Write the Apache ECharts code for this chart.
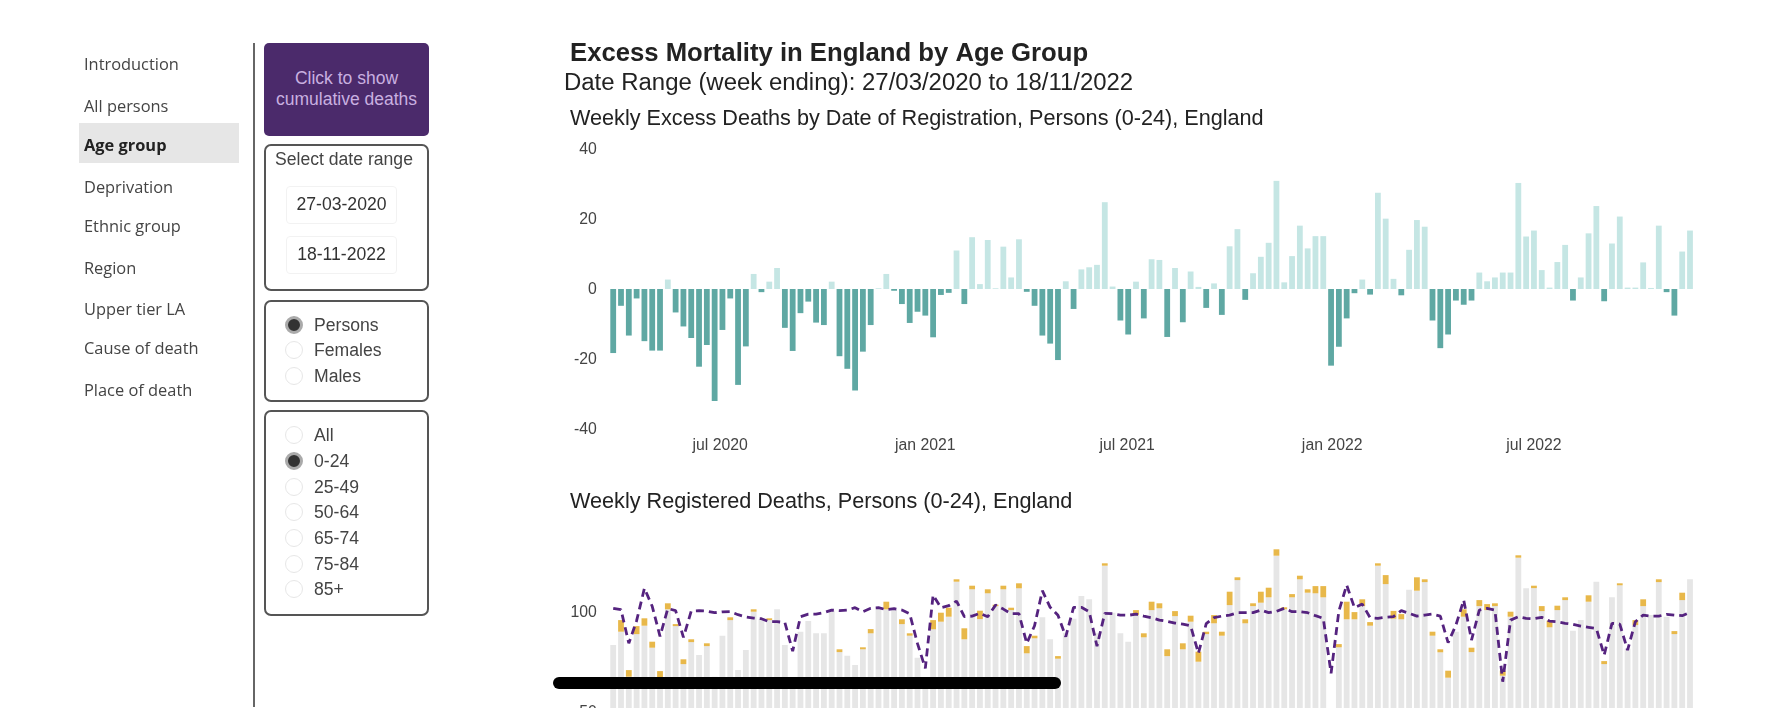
<!DOCTYPE html>
<html>
<head>
<meta charset="utf-8">
<title>Excess Mortality in England by Age Group</title>
<script src="https://cdn.jsdelivr.net/npm/echarts@6/dist/echarts.min.js"></script>
<style>
  html, body { margin: 0; padding: 0; background: #fff; }
  #page { position: relative; width: 1770px; height: 724px; overflow: hidden; font-family: "Liberation Sans", Arial, sans-serif; color: #444; filter: blur(0.6px); }
  #chart { position: absolute; left: 0; top: 0; width: 1770px; height: 708px; }
  .nav { position: absolute; left: 84px; font-family: "Open Sans", sans-serif; font-size: 16.4px; line-height: 20px; color: #444; }
  .nav.active { font-weight: 700; color: #222; }
  #navActive { position: absolute; left: 79px; top: 123px; width: 160px; height: 40px; background: #e6e6e6; }
  #divider { position: absolute; left: 253px; top: 43px; width: 2px; height: 664px; background: #666; }
  #btn { position: absolute; left: 264px; top: 43px; width: 165px; height: 93px; background: #4b2a6b; border-radius: 5px; color: #c9b0e0; font-size: 17.5px; line-height: 21px; text-align: center; padding-top: 25px; box-sizing: border-box; white-space: nowrap; }
  .box { position: absolute; left: 264px; width: 165px; box-sizing: border-box; border: 2px solid #555; border-radius: 7px; }
  .label { position: absolute; font-size: 17.6px; line-height: 20px; white-space: nowrap; }
  .dateInput { position: absolute; left: 286px; width: 111px; height: 38px; box-sizing: border-box; border: 1px solid #f2f2f2; border-radius: 4px; text-align: center; font-size: 17.6px; line-height: 34px; color: #333; }
  .radio { position: absolute; left: 285px; width: 18px; height: 18px; box-sizing: border-box; border: 1.5px solid #e6e6e6; border-radius: 50%; background: #fff; }
  .radio.on { border: 3px solid #aaa; background: #333; }
  #pill { position: absolute; left: 553px; top: 677px; width: 508px; height: 12px; background: #000; border-radius: 6px; }
</style>
</head>
<body>
<div id="page">
  <div id="chart"></div>
  <div id="side"></div>
  <div id="pill"></div>
</div>
<script>
// week ending dates run from here, one every 7 days
let firstWeek = [2020, 2, 27]
let weekCount = 139

let navItems = ['Introduction', 'All persons', 'Age group', 'Deprivation', 'Ethnic group', 'Region', 'Upper tier LA', 'Cause of death', 'Place of death']
let sexItems = ['Persons', 'Females', 'Males']
let ageItems = ['All', '0-24', '25-49', '50-64', '65-74', '75-84', '85+']
let dateItems = ['27-03-2020', '18-11-2022']

let tickDates = [[2020, 6, 1], [2021, 0, 1], [2021, 6, 1], [2022, 0, 1], [2022, 6, 1]]
let tickLabels = ['jul 2020', 'jan 2021', 'jul 2021', 'jan 2022', 'jul 2022']

//周超额死亡
let excessDeaths = [
  -18.3, -4.8, -13.3, -2.7, -14.9, -17.6, -17.6, 2.7, -6.7, -10.7,
  -14, -22.2, -16, -32, -11.7, -2.7, -27.4, -16.4, 4.3, -0.9,
  2.1, 6, -11.1, -17.7, -6.9, -3.6, -9.6, -10.3, 2.1, -19.2,
  -22.8, -29, -17.9, -10.3, 0.2, 4.3, -0.5, -4.3, -9.7, -6.5,
  -7.6, -13.8, -1.7, -1.1, 11, -4.3, 14.8, 1.4, 14, 0.2,
  12.1, 3.3, 14.2, -0.8, -4.8, -13.3, -15.6, -20.3, 2.2, -5.7,
  5.6, 6.2, 6.9, 24.8, 0.7, -9, -13, 2.1, -8.4, 8.5,
  8.3, -13.7, 6, -9.5, 5, 0.6, -5.4, 1.6, -7.4, 12.2,
  17.1, -3.1, 4.5, 9.2, 13.2, 30.9, 1.9, 9.4, 18.1, 11.6,
  15.1, 15.1, -21.9, -16.5, -8.4, -1.2, 2.7, -1.6, 27.5, 20.1,
  2.9, -1.8, 11.2, 19.7, 17.8, -9, -16.9, -13, -3.3, -4.5,
  -3.3, 4.7, 2.2, 3.3, 4.7, 4.7, 30.3, 15, 16.7, 5.4,
  0.4, 7.7, 12.6, -3.3, 3.3, 15.9, 23.7, -3.5, 13, 20.7,
  0.4, 0.4, 7.6, 0.3, 18.1, -0.9, -7.6, 10.7, 16.7
]

// grey part of the registered bars
let registeredBase = [
  83.3, 90, 67.5, 88.8, 93, 82, 67.2, 101.2, 92.8, 73.8,
  84.8, 78.3, 82.8, 67.5, 88, 95.8, 70.8, 80.8, 100, 96.3,
  95.8, 101.2, 83.3, 62.6, 90, 95.3, 89.2, 89.2, 100.5, 79.8,
  78, 73.3, 81.2, 89.2, 102.2, 101.2, 100.8, 93.8, 88, 77,
  64, 91.2, 95, 97.5, 115, 86.2, 111.2, 96.3, 109.2, 102.8,
  111.2, 100.8, 111.7, 79.2, 86.7, 97.2, 86.2, 76.5, 89.5, 96.5,
  107.8, 106.2, 89.2, 123, 99.5, 89.2, 85, 98.3, 87.2, 100.8,
  101.7, 77.8, 97.8, 81.2, 95, 75, 88.8, 94.2, 88, 103.3,
  115.8, 94.2, 102.8, 104.5, 107.2, 128, 101.2, 107.2, 116.2, 109.5,
  109.2, 107.2, 47, 82.2, 96.2, 96.2, 102.8, 93, 123, 113.8,
  96.5, 96.2, 111, 110.5, 114.8, 88, 79.7, 67, 90, 97.5,
  79.8, 102.8, 100.8, 102.8, 68, 97.5, 127, 111.7, 111.8, 100.3,
  92.2, 100.8, 105.8, 90.5, 95.8, 105, 115, 73.8, 107.2, 113.2,
  81.5, 93.3, 102.8, 98.3, 114.8, 97.5, 88.8, 105.8, 116.2
]

// yellow part stacked on top
let registeredExtra = [
  0, 5.8, 3.3, 4, 3.7, 3, 3.1, 3, 1, 2.4,
  1.4, 0, 1.4, 0, 0, 1.4, 0, 0, 1.2, 0,
  0.9, 0, 0, 0, 0, 0, 0, 0, 0, 1.4,
  0, 0, 1, 2.1, 0, 3.8, 0, 2.4, 1.2, 0,
  0, 4.6, 4.5, 4.5, 1.2, 5.5, 1.8, 4.2, 2, 0.7,
  1.8, 1.2, 2.5, 3.6, 1.3, 0, 0, 1.3, 0, 0,
  0, 0, 0, 1.2, 0, 0, 0, 2.5, 2, 4.2,
  2.5, 3.4, 2.5, 3, 3, 5, 1.2, 4.1, 2, 6.7,
  1.4, 2, 1.4, 5.5, 4.8, 3.2, 1, 1.6, 1.8, 1.7,
  3.6, 5.6, 0, 1.6, 8.8, 3.6, 3.4, 1.8, 1.2, 4.5,
  3.9, 2.6, 0, 6.7, 1.4, 2, 1.5, 3.5, 0, 3.7,
  2.2, 3, 3, 1.4, 2.5, 2.5, 1.2, 0, 1.2, 2.5,
  3.3, 2.2, 1.4, 0, 0, 3.2, 0, 1.5, 0, 1,
  0, 2.5, 3.4, 0, 1.4, 0, 1.5, 3.7, 0
]

// dashed line
let expectedDeaths = [
  101.7, 101, 84.2, 95.5, 111.7, 102.7, 87.7, 101.6, 100.5, 87.2,
  100.3, 100.5, 100.3, 99.5, 99.9, 100, 98.5, 97.4, 96.8, 96.5,
  95, 95, 94.6, 80.3, 97.5, 98.8, 98.8, 99.5, 100.8, 100.5,
  100.8, 102, 100, 101.7, 102, 101, 101.5, 100.8, 99, 84,
  71.7, 108.3, 102, 103, 105.3, 97.5, 97.8, 99.2, 97.5, 103.3,
  101.3, 99, 99, 84.2, 93, 110.5, 102.2, 98.2, 87.5, 102.2,
  102.2, 100, 82.8, 99.2, 99, 98.3, 98.2, 98.8, 97.8, 97,
  95.8, 95.2, 94.3, 93.8, 92.9, 79.2, 94, 97, 97.8, 98.3,
  99.5, 99.5, 99.5, 100.8, 99.5, 100.2, 101.7, 100, 100, 99.5,
  98, 96.7, 69.2, 100.3, 113.3, 102, 103.8, 97, 96.7, 97.2,
  97.5, 100.5, 99.2, 97.8, 98.3, 98.8, 97.8, 84.5, 93.3, 105.8,
  85.8, 100.8, 101.7, 100.8, 65, 95.8, 97.5, 96.7, 96.5, 97.2,
  95.3, 95, 94.2, 93.7, 92.8, 92.2, 91.6, 78.3, 94.2, 93.8,
  80.8, 95, 98.3, 97.8, 97.8, 98.7, 98.3, 98, 99.7
]

let navTops = [54, 96, 135, 177, 216, 258, 299, 338, 380]
let sexTops = [325, 350, 376]
let ageTops = [435, 461, 487, 512, 538, 564, 589]

let obj = {

  weeks: function () {
    let list = []
    for (let i = 0; i < weekCount; i++) {
      list.push(+new Date(firstWeek[0], firstWeek[1], firstWeek[2] + i * 7))
    }
    return list
  },

  add: function (html) {
    document.getElementById('side').insertAdjacentHTML('beforeend', html)
  },

  initSide: function () {
    let that = this
    that.add('<div id="navActive"></div><div id="divider"></div>')
    navItems.forEach(function (name, i) {
      let cls = i === 2 ? 'nav active' : 'nav'
      that.add('<div class="' + cls + '" style="top:' + navTops[i] + 'px">' + name + '</div>')
    })
    that.add('<div id="btn">Click to show<br>cumulative deaths</div>')
    that.add('<div class="box" style="top:144px;height:147px"></div>')
    that.add('<div class="label" style="left:275px;top:149px">Select date range</div>')
    that.add('<div class="dateInput" style="top:186px">' + dateItems[0] + '</div>')
    that.add('<div class="dateInput" style="top:236px">' + dateItems[1] + '</div>')
    that.add('<div class="box" style="top:300px;height:102px"></div>')
    that.add('<div class="box" style="top:410px;height:206px"></div>')
    that.radioGroup(sexItems, sexTops, 0)
    that.radioGroup(ageItems, ageTops, 1)
  },

  radioGroup: function (items, tops, selected) {
    let that = this
    items.forEach(function (name, i) {
      let cls = i === selected ? 'radio on' : 'radio'
      that.add('<div class="' + cls + '" style="top:' + (tops[i] - 9) + 'px"></div>')
      that.add('<div class="label" style="left:314px;top:' + (tops[i] - 10) + 'px">' + name + '</div>')
    })
  },

  initChart: function () {
    let weeks = this.weeks()
    let pair = function (list) {
      return list.map(function (v, i) { return [weeks[i], v] })
    }
    let ticks = tickDates.map(function (d) { return +new Date(d[0], d[1], d[2]) })

    // one week of padding either side of the bars
    let minX = weeks[0] - 7 * 864e5
    let maxX = weeks[weeks.length - 1] + 7 * 864e5

    let xAxisBase = {
      type: 'time',
      min: minX,
      max: maxX,
      splitNumber: 30,
      axisLine: { show: false, onZero: false },
      axisTick: { show: false },
      splitLine: { show: false },
      axisLabel: {
        hideOverlap: false,
        margin: 9,
        color: '#444',
        fontSize: 15.8,
        fontWeight: 'normal',
        fontFamily: 'Liberation Sans',
        formatter: function (value) {
          return tickLabels[ticks.indexOf(+value)] || ''
        }
      }
    }
    let yLabel = { color: '#444', fontSize: 15.8, fontFamily: 'Liberation Sans', margin: 5.6, verticalAlign: 'top', lineHeight: 2, showMaxLabel: true }

    let titleStyle = function (size, weight) {
      return { fontFamily: 'Liberation Sans', fontSize: size, fontWeight: weight, color: '#222' }
    }

    let myChart = echarts.init(document.getElementById('chart'))
    myChart.setOption({
      animation: false,
      title: [
        { text: 'Excess Mortality in England by Age Group', left: 570, top: 41, padding: 0, textStyle: titleStyle(25.7, 'bold') },
        { text: 'Date Range (week ending): 27/03/2020 to 18/11/2022', left: 564, top: 71, padding: 0, textStyle: titleStyle(23.95, 'normal') },
        { text: 'Weekly Excess Deaths by Date of Registration, Persons (0-24), England', left: 570, top: 108, padding: 0, textStyle: titleStyle(21.65, 'normal') },
        { text: 'Weekly Registered Deaths, Persons (0-24), England', left: 570, top: 491, padding: 0, textStyle: titleStyle(21.65, 'normal') }
      ],
      grid: [
        { left: 602.5, width: 1098.2, top: 149, height: 280, outerBoundsMode: 'none' },
        { left: 602.5, width: 1098.2, top: 511.7, height: 300, outerBoundsMode: 'none' }
      ],
      xAxis: [
        Object.assign({ gridIndex: 0 }, xAxisBase),
        Object.assign({ gridIndex: 1 }, xAxisBase, { axisLabel: { show: false } })
      ],
      yAxis: [
        {
          gridIndex: 0, type: 'value', min: -40, max: 40, interval: 20,
          splitLine: { show: false }, axisLine: { show: false }, axisTick: { show: false },
          axisLabel: yLabel
        },
        {
          gridIndex: 1, type: 'value', min: 0, max: 150, interval: 50,
          splitLine: { show: false }, axisLine: { show: false }, axisTick: { show: false },
          axisLabel: Object.assign({}, yLabel, { showMaxLabel: false })
        }
      ],
      series: [
        {
          name: 'Excess deaths',
          type: 'bar',
          xAxisIndex: 0,
          yAxisIndex: 0,
          barWidth: 5.8,
          data: pair(excessDeaths),
          itemStyle: {
            color: function (params) {
              return params.value[1] < 0 ? '#5fa8a3' : '#c5e6e4'
            }
          }
        },
        {
          name: 'Registered deaths',
          type: 'bar',
          stack: 'registered',
          xAxisIndex: 1,
          yAxisIndex: 1,
          barWidth: 5.8,
          data: pair(registeredBase),
          itemStyle: { color: '#e6e6e6' }
        },
        {
          name: 'Difference',
          type: 'bar',
          stack: 'registered',
          xAxisIndex: 1,
          yAxisIndex: 1,
          barWidth: 5.8,
          data: pair(registeredExtra),
          itemStyle: { color: '#e8b84a' }
        },
        {
          name: 'Expected deaths',
          type: 'line',
          xAxisIndex: 1,
          yAxisIndex: 1,
          showSymbol: false,
          data: pair(expectedDeaths),
          lineStyle: { color: '#55237f', width: 2.8, type: [8, 5] },
          z: 5
        }
      ]
    })
  },

  init: function () {
    this.initSide()
    this.initChart()
  }
}

obj.init()
</script>
</body>
</html>
